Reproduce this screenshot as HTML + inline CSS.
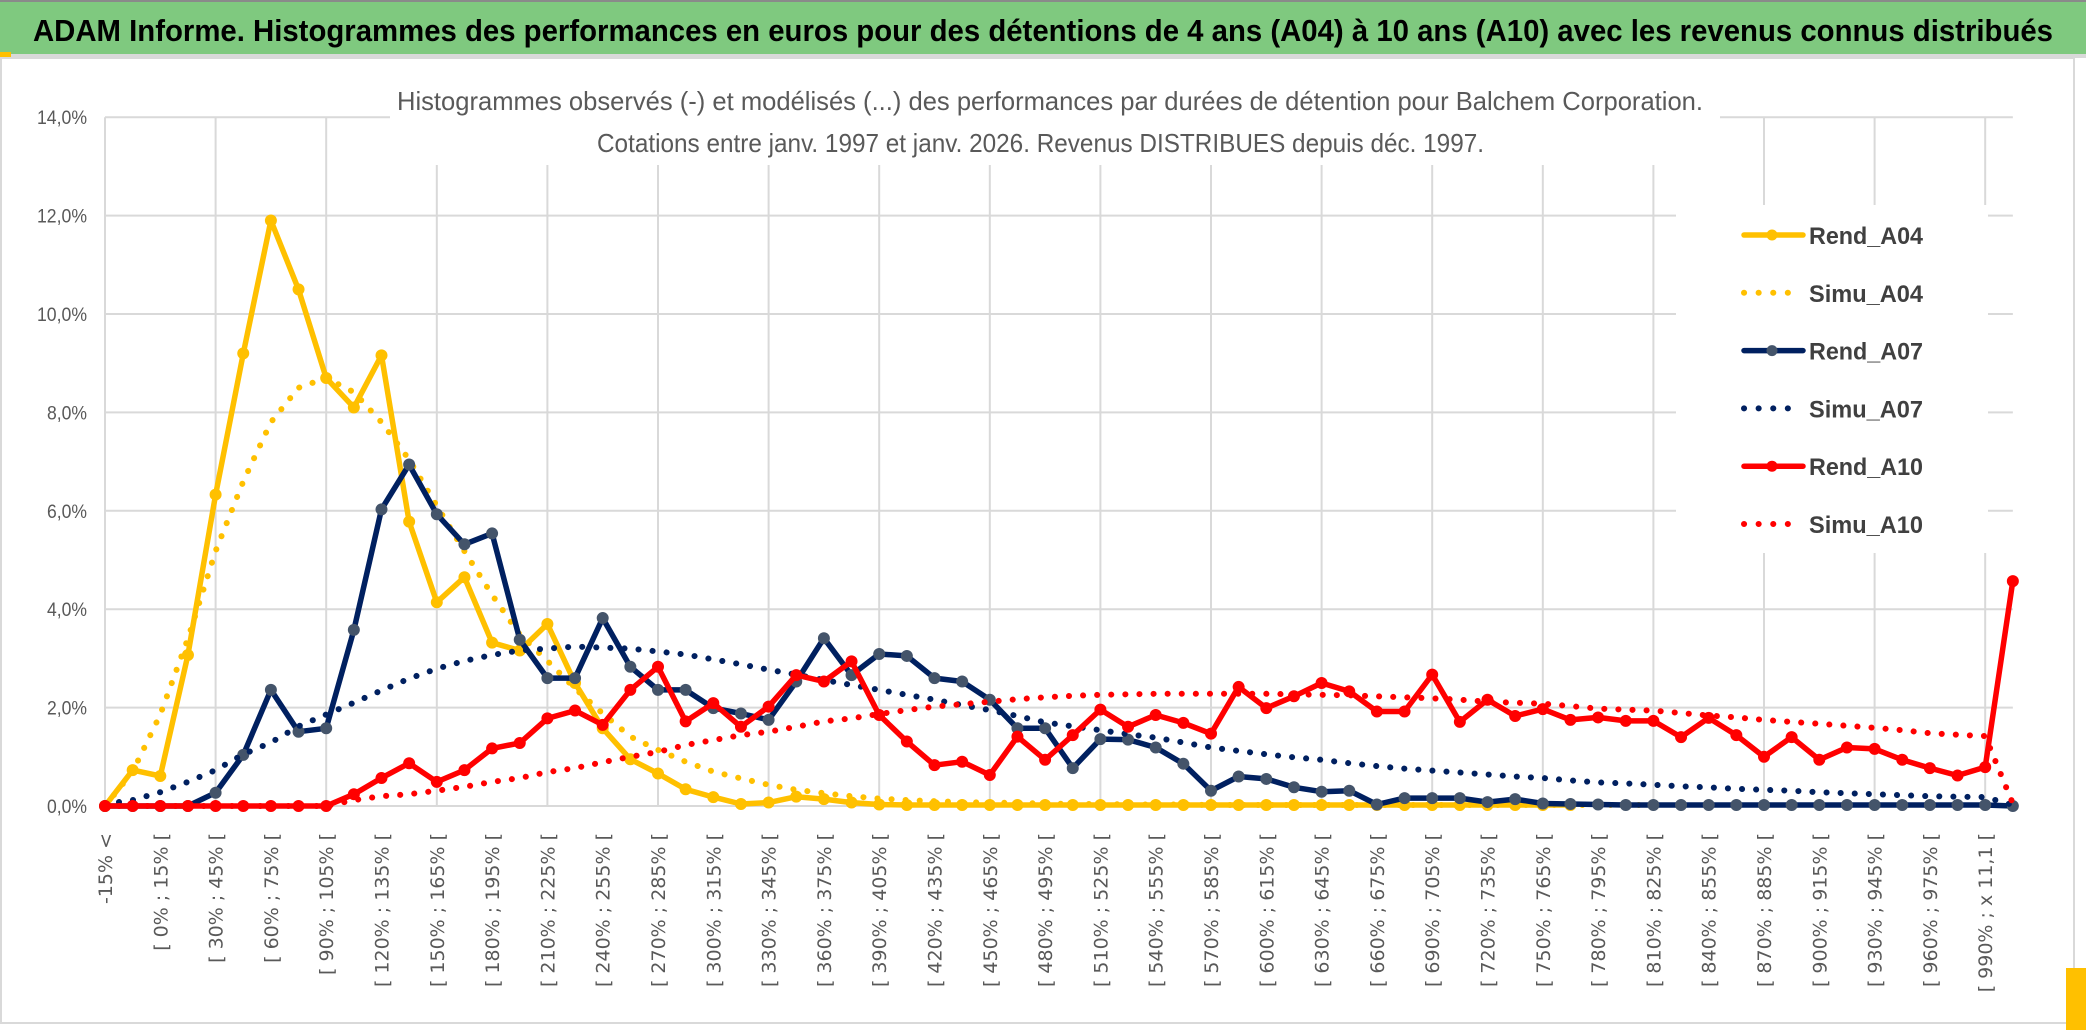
<!DOCTYPE html>
<html>
<head>
<meta charset="utf-8">
<style>
html,body{margin:0;padding:0;background:#fff;}
svg{display:block;}
</style>
</head>
<body>
<svg id="chart" width="2086" height="1033" viewBox="0 0 2086 1033" xmlns="http://www.w3.org/2000/svg">
  <rect x="0" y="0" width="2086" height="1033" fill="#ffffff"/>
  <g>
    <rect x="0" y="0" width="2086" height="54" fill="#7fc97f"/>
    <rect x="0" y="0" width="2086" height="2" fill="#8a8a8a"/>
    <rect x="0" y="54" width="2086" height="4" fill="#d9d9d9"/>
    <rect x="0" y="52" width="11" height="5" fill="#ffc000"/>
    <text x="33" y="41" font-family="'Liberation Sans Narrow','Liberation Sans',sans-serif" font-weight="bold" font-size="31" fill="#000" textLength="2020" lengthAdjust="spacingAndGlyphs">ADAM Informe. Histogrammes des performances en euros pour des détentions de 4 ans (A04) à 10 ans (A10) avec les revenus connus distribués</text>
  </g>
  <rect x="1" y="58" width="2073" height="965" fill="none" stroke="#d9d9d9" stroke-width="2"/>
  <rect x="2066" y="968" width="20" height="62" fill="#ffc000"/>
  <g id="grid"></g>
  <rect x="390" y="80" width="1330" height="85" fill="#fff"/>
  <text x="397" y="110" font-family="'Liberation Sans Narrow','Liberation Sans',sans-serif" font-size="26" fill="#595959" textLength="1306" lengthAdjust="spacingAndGlyphs">Histogrammes observés (-) et modélisés (...) des performances par durées de détention pour Balchem Corporation.</text>
  <text x="597" y="152" font-family="'Liberation Sans Narrow','Liberation Sans',sans-serif" font-size="26" fill="#595959" textLength="887" lengthAdjust="spacingAndGlyphs">Cotations entre janv. 1997 et janv. 2026. Revenus DISTRIBUES depuis déc. 1997.</text>
  <g id="yaxis"></g>
  <g id="xaxis"></g>
  <g id="series"></g>
  <g id="legend"></g>
</svg>
<script>
const tickLabels = ["-15% <","[ 0% ; 15% [","[ 30% ; 45% [","[ 60% ; 75% [","[ 90% ; 105% [","[ 120% ; 135% [","[ 150% ; 165% [","[ 180% ; 195% [","[ 210% ; 225% [","[ 240% ; 255% [","[ 270% ; 285% [","[ 300% ; 315% [","[ 330% ; 345% [","[ 360% ; 375% [","[ 390% ; 405% [","[ 420% ; 435% [","[ 450% ; 465% [","[ 480% ; 495% [","[ 510% ; 525% [","[ 540% ; 555% [","[ 570% ; 585% [","[ 600% ; 615% [","[ 630% ; 645% [","[ 660% ; 675% [","[ 690% ; 705% [","[ 720% ; 735% [","[ 750% ; 765% [","[ 780% ; 795% [","[ 810% ; 825% [","[ 840% ; 855% [","[ 870% ; 885% [","[ 900% ; 915% [","[ 930% ; 945% [","[ 960% ; 975% [","[ 990% ; x 11,1 ["];
const yTicks = [0,2,4,6,8,10,12,14];
const yTickLabels = ["0,0%","2,0%","4,0%","6,0%","8,0%","10,0%","12,0%","14,0%"];
const categoryCount = 70;
const rendA04 = [0,0.73,0.61,3.07,6.33,9.2,11.9,10.5,8.7,8.1,9.16,5.78,4.14,4.65,3.32,3.16,3.7,2.5,1.58,0.95,0.66,0.34,0.18,0.04,0.07,0.19,0.14,0.07,0.03,0.02,0.02,0.02,0.02,0.02,0.02,0.02,0.02,0.02,0.02,0.02,0.02,0.02,0.02,0.02,0.02,0.02,0.02,0.02,0.02,0.02,0.02,0.02,0.02,0.02,null,null,null,null,null,null,null,null,null,null,null,null,null,null,null,null];
const simuA04 = [0,0.7,1.86,3.4,5.18,6.6,7.8,8.5,8.7,8.41,7.8,7.04,6.1,5.18,4.29,3.48,2.95,2.39,1.88,1.41,1.14,0.9,0.7,0.56,0.43,0.33,0.26,0.2,0.15,0.12,0.1,0.08,0.07,0.06,0.05,0.04,0.04,0.03,0.03,0.03,0.02,0.02,0.02,0.02,0.02,0.02,0.02,0.02,0.02,0.02,0.02,0.02,0.02,0.02,0.02,0.02,0.02,null,null,null,null,null,null,null,null,null,null,null,null,null];
const rendA07 = [0,0,0,0,0.27,1.04,2.36,1.51,1.58,3.58,6.03,6.94,5.93,5.32,5.54,3.38,2.6,2.6,3.82,2.83,2.36,2.36,1.99,1.88,1.75,2.53,3.41,2.66,3.09,3.05,2.6,2.53,2.16,1.58,1.58,0.77,1.36,1.35,1.19,0.86,0.31,0.6,0.55,0.38,0.29,0.31,0.03,0.16,0.16,0.16,0.08,0.14,0.05,0.04,0.03,0.02,0.02,0.02,0.02,0.02,0.02,0.02,0.02,0.02,0.02,0.02,0.02,0.02,0.02,0];
const simuA07 = [0.04,0.12,0.28,0.49,0.73,1.05,1.29,1.62,1.86,2.1,2.35,2.59,2.79,2.95,3.07,3.16,3.2,3.24,3.22,3.2,3.14,3.08,2.98,2.88,2.77,2.67,2.56,2.46,2.36,2.26,2.16,2.05,1.95,1.83,1.7,1.62,1.54,1.46,1.39,1.29,1.19,1.12,1.05,0.99,0.94,0.87,0.81,0.76,0.72,0.68,0.64,0.6,0.57,0.52,0.48,0.46,0.43,0.4,0.38,0.35,0.33,0.31,0.28,0.26,0.24,0.22,0.2,0.19,0.18,0.02];
const rendA10 = [0,0,0,0,0,0,0,0,0,0.24,0.57,0.87,0.49,0.73,1.17,1.28,1.78,1.94,1.65,2.36,2.83,1.72,2.09,1.61,2.02,2.66,2.53,2.94,1.85,1.31,0.83,0.9,0.63,1.41,0.94,1.44,1.96,1.61,1.85,1.69,1.47,2.42,1.99,2.23,2.5,2.33,1.92,1.92,2.67,1.71,2.16,1.83,1.97,1.75,1.8,1.73,1.73,1.4,1.79,1.44,1.0,1.4,0.94,1.19,1.16,0.94,0.77,0.62,0.79,4.57];
const simuA10 = [0,0,0,0,0,0,0,0,0,0.12,0.2,0.24,0.31,0.39,0.49,0.57,0.69,0.77,0.89,1.0,1.1,1.24,1.34,1.44,1.51,1.61,1.72,1.78,1.87,1.95,2.02,2.07,2.12,2.17,2.21,2.24,2.26,2.27,2.28,2.28,2.28,2.28,2.28,2.27,2.26,2.25,2.23,2.21,2.19,2.16,2.12,2.1,2.08,2.03,1.98,1.96,1.94,1.89,1.84,1.8,1.75,1.71,1.67,1.63,1.59,1.54,1.48,1.45,1.42,0.05];
const seriesNames = ["Rend_A04","Simu_A04","Rend_A07","Simu_A07","Rend_A10","Simu_A10"];

const NS = "http://www.w3.org/2000/svg";
const X0 = 105, DX = 27.65, Y0 = 806, PY = 49.2;
function xPos(i){ return X0 + i*DX; }
function yPos(v){ return Y0 - v*PY; }
function mk(tag, attrs, parent){
  const e = document.createElementNS(NS, tag);
  for (const k in attrs) e.setAttribute(k, attrs[k]);
  parent.appendChild(e);
  return e;
}

// gridlines
const grid = document.getElementById('grid');
const xEnd = xPos(categoryCount-1);
yTicks.forEach(t => {
  const l = mk('line', {x1: X0, x2: xEnd, y1: yPos(t), y2: yPos(t), stroke: '#d9d9d9', 'stroke-width': 2}, grid);
  
  
});
for (let i = 0; i < categoryCount; i += 4) {
  const l = mk('line', {x1: xPos(i), x2: xPos(i), y1: yPos(14), y2: Y0, stroke: '#d9d9d9', 'stroke-width': 2}, grid);
  
  
}

// y axis labels
const yax = document.getElementById('yaxis');
yTicks.forEach((t, k) => {
  const lab = yTickLabels[k];
  const tx = mk('text', {x: 87, y: yPos(t) + 7, 'text-anchor': 'end', 'font-family': "'Liberation Sans Narrow','Liberation Sans',sans-serif", 'font-size': 19, fill: '#595959', textLength: lab.length * 10, lengthAdjust: 'spacingAndGlyphs'}, yax);
  tx.textContent = lab;
  
  
});

// x axis labels
const xax = document.getElementById('xaxis');
tickLabels.forEach((lab, k) => {
  const cx = xPos(k*2) + 7;
  const tx = mk('text', {x: 0, y: 0, 'text-anchor': 'end', transform: 'translate(' + cx + ',833) rotate(-90)', 'font-family': "'DejaVu Sans',sans-serif", 'font-size': 19, fill: '#595959'}, xax);
  tx.textContent = lab;
  
  
});

// series
const sg = document.getElementById('series');
function pathFor(arr){
  let d = '', pen = false;
  arr.forEach((v, i) => {
    if (v === null) { pen = false; return; }
    d += (pen ? 'L' : 'M') + xPos(i).toFixed(1) + ',' + yPos(v).toFixed(1);
    pen = true;
  });
  return d;
}
function drawSolid(arr, color, markerColor, name){
  const g = mk('g', {}, sg);
  
  
  const p = mk('path', {d: pathFor(arr), fill: 'none', stroke: color, 'stroke-width': 5.5, 'stroke-linejoin': 'round', 'stroke-linecap': 'round'}, g);
  
  
  arr.forEach((v, i) => {
    if (v === null) return;
    const c = mk('circle', {cx: xPos(i), cy: yPos(v), r: 5.5, fill: markerColor, stroke: markerColor, 'stroke-width': 1}, g);
    
    
  });
}
function drawDotted(arr, color, name){
  const p = mk('path', {d: pathFor(arr), fill: 'none', stroke: color, 'stroke-width': 6, 'stroke-linecap': 'round', 'stroke-dasharray': '0.1 14'}, sg);
  
  
}
drawSolid(rendA04, '#ffc000', '#ffc000', 'rend-a04');
drawDotted(simuA04, '#ffc000', 'simu-a04');
drawSolid(rendA07, '#002060', '#44546a', 'rend-a07');
drawDotted(simuA07, '#002060', 'simu-a07');
drawSolid(rendA10, '#ff0000', '#ff0000', 'rend-a10');
drawDotted(simuA10, '#ff0000', 'simu-a10');

// legend
const lg = document.getElementById('legend');
mk('rect', {x: 1676, y: 205, width: 312, height: 348, fill: '#ffffff'}, lg);
const legStyle = [
  {c: '#ffc000', m: '#ffc000', dot: false},
  {c: '#ffc000', m: null, dot: true},
  {c: '#002060', m: '#44546a', dot: false},
  {c: '#002060', m: null, dot: true},
  {c: '#ff0000', m: '#ff0000', dot: false},
  {c: '#ff0000', m: null, dot: true}
];
seriesNames.forEach((nm, k) => {
  const y = 235 + k*57.8;
  const st = legStyle[k];
  const g = mk('g', {}, lg);
  
  
  if (st.dot) {
    mk('line', {x1: 1744, x2: 1800, y1: y, y2: y, stroke: st.c, 'stroke-width': 6, 'stroke-linecap': 'round', 'stroke-dasharray': '0.1 14.5'}, g);
  } else {
    mk('line', {x1: 1744, x2: 1803, y1: y, y2: y, stroke: st.c, 'stroke-width': 5.5, 'stroke-linecap': 'round'}, g);
    mk('circle', {cx: 1772, cy: y, r: 5.5, fill: st.m}, g);
  }
  const t = mk('text', {x: 1809, y: y + 9, 'font-family': "'Liberation Sans',sans-serif", 'font-weight': 'bold', 'font-size': 24, fill: '#404040', textLength: 114, lengthAdjust: 'spacingAndGlyphs'}, g);
  t.textContent = nm;
});
</script>
</body>
</html>
